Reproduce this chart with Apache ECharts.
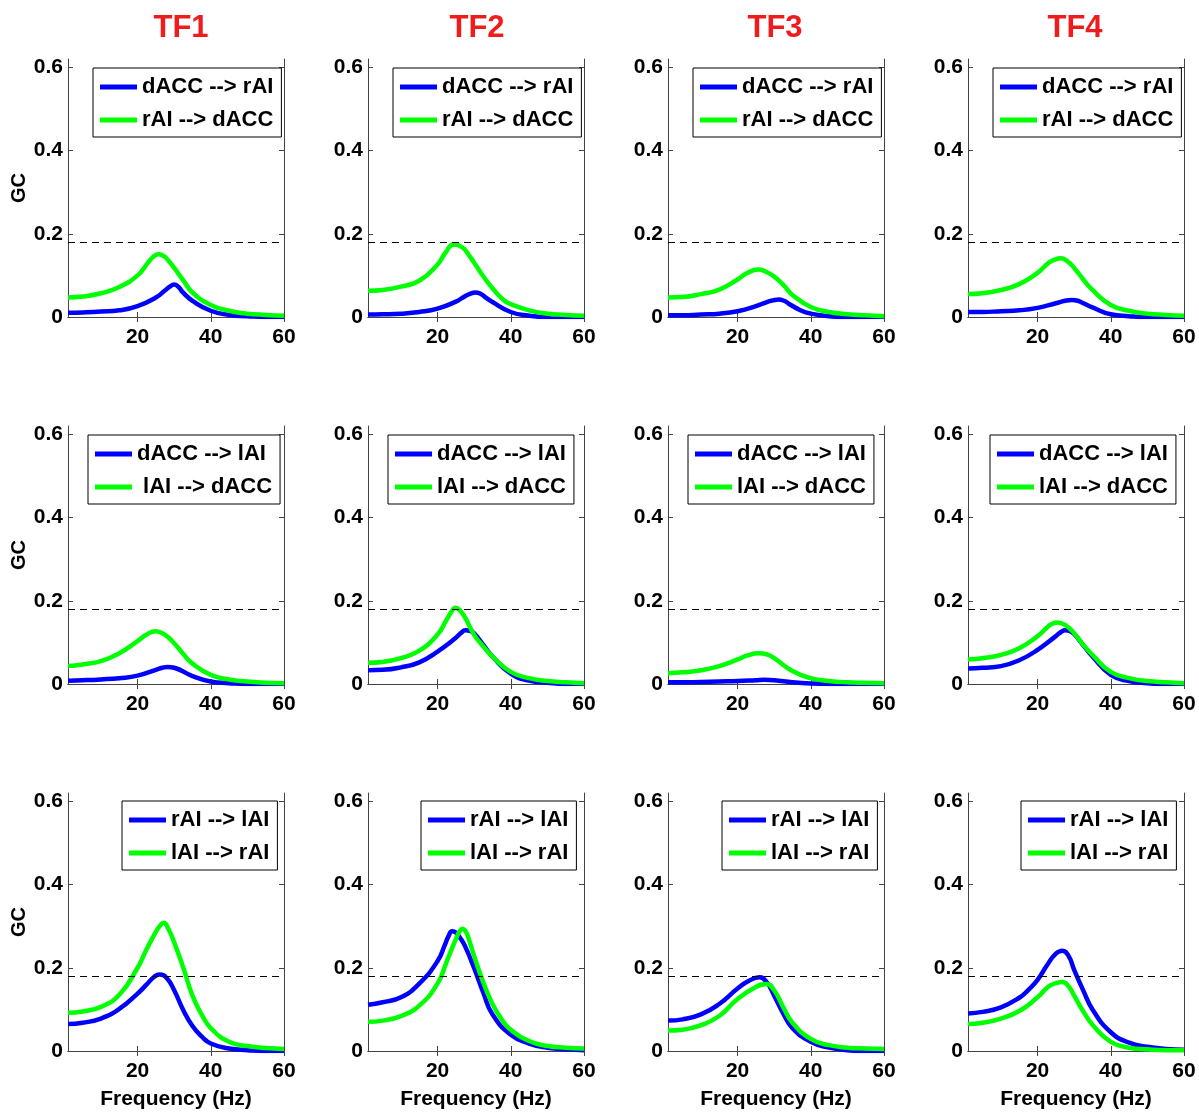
<!DOCTYPE html>
<html>
<head>
<meta charset="utf-8">
<script src="https://cdn.jsdelivr.net/npm/echarts@6/dist/echarts.min.js"></script>
<style>
html,body{margin:0;padding:0;background:#fff;}
#chart{width:1199px;height:1113px;}
</style>
</head>
<body>
<div id="chart"></div>
<script>
// ---------- data ----------
const freqMin = 1, freqMax = 60;
const xTicks = [20, 40, 60];
const yTicks = [0, 0.2, 0.4, 0.6];
const yMax = 0.62;
const threshold = 0.182;
const columnTitles = ['TF1', 'TF2', 'TF3', 'TF4'];
const xAxisName = 'Frequency (Hz)';
const yAxisName = 'GC';

const row1Names = ['dACC --> rAI', 'rAI --> dACC'];
const row2Names = ['dACC --> lAI', 'lAI --> dACC'];
const row2NamesTF1 = ['dACC --> lAI', ' lAI --> dACC'];
const row3Names = ['rAI --> lAI', 'lAI --> rAI'];

// Row 1: dACC <-> rAI
const r1tf1Blue  = [[1,.010],[5,.011],[10,.013],[15,.016],[20,.026],[25,.047],[27.4,.063],[28.8,.073],[30,.078],[31.2,.072],[32.4,.059],[35,.039],[40,.015],[45,.005],[50,.002],[55,0],[60,0]];
const r1tf1Green = [[1,.047],[5,.049],[10,.057],[15,.072],[20,.100],[22.8,.130],[24.3,.145],[25.8,.151],[27,.147],[28,.140],[30,.118],[32.5,.088],[35,.059],[40,.029],[45,.015],[50,.008],[55,.005],[60,.003]];
const r1tf2Blue  = [[1,.006],[5,.0065],[10,.008],[15,.012],[20,.020],[25,.037],[27.5,.050],[29,.056],[30.3,.059],[31.7,.056],[33,.048],[35,.036],[40,.012],[45,.003],[50,0],[55,0],[60,0]];
const r1tf2Green = [[1,.063],[5,.065],[10,.073],[15,.087],[20,.126],[22.2,.155],[24.4,.174],[26.8,.167],[28.7,.147],[30.5,.124],[32.4,.099],[35,.069],[38,.041],[40,.031],[45,.016],[50,.008],[55,.005],[60,.003]];
const r1tf3Blue  = [[1,.004],[5,.004],[10,.006],[15,.008],[20,.014],[25,.026],[28,.036],[29.7,.040],[31.2,.042],[32.7,.039],[34,.032],[37,.017],[40,.008],[45,.002],[50,0],[55,0],[60,0]];
const r1tf3Green = [[1,.047],[5,.048],[10,.055],[15,.066],[20,.090],[22.5,.105],[25.7,.114],[27.5,.110],[30,.097],[32.5,.077],[35,.053],[40,.024],[45,.012],[50,.0065],[55,.004],[60,.002]];
const r1tf4Blue  = [[1,.012],[5,.012],[10,.014],[15,.016],[20,.022],[25,.033],[27.5,.039],[29.4,.041],[31,.039],[32.5,.033],[35,.023],[40,.0065],[45,.002],[50,0],[55,0],[60,0]];
const r1tf4Green = [[1,.055],[5,.057],[10,.065],[15,.079],[20,.106],[23,.130],[24.7,.138],[26.3,.141],[28,.135],[30,.118],[32.5,.090],[35,.065],[40,.029],[45,.015],[50,.008],[55,.005],[60,.003]];

// Row 2: dACC <-> lAI
const r2tf1Blue  = [[1,.008],[5,.009],[10,.011],[15,.014],[20,.020],[25,.034],[26.8,.039],[28.2,.041],[30,.039],[35,.019],[40,.006],[45,.002],[50,0],[55,0],[60,0]];
const r2tf1Green = [[1,.043],[5,.047],[10,.055],[15,.074],[20,.103],[22.5,.119],[24.9,.127],[27.5,.118],[30,.098],[32.5,.072],[35,.049],[40,.022],[45,.011],[50,.006],[55,.003],[60,.002]];
const r2tf2Blue  = [[1,.033],[5,.034],[10,.040],[15,.052],[20,.078],[25,.111],[26.3,.122],[27.6,.129],[28.8,.128],[30,.122],[32.5,.094],[35,.066],[40,.025],[45,.008],[50,.003],[55,0],[60,0]];
const r2tf2Green = [[1,.051],[5,.053],[10,.062],[15,.080],[20,.119],[22.5,.155],[23.7,.172],[24.9,.183],[26.2,.176],[27.5,.160],[30,.118],[32.5,.090],[35,.066],[40,.029],[45,.014],[50,.007],[55,.004],[60,.002]];
const r2tf3Blue  = [[1,.004],[5,.004],[10,.005],[15,.006],[20,.007],[25,.009],[27.3,.010],[30,.009],[35,.004],[40,.001],[45,0],[50,0],[55,0],[60,0]];
const r2tf3Green = [[1,.026],[5,.028],[10,.033],[15,.043],[20,.059],[22.5,.068],[25.7,.074],[28,.071],[30,.062],[35,.031],[40,.014],[45,.007],[50,.004],[55,.003],[60,.002]];
const r2tf4Blue  = [[1,.037],[5,.039],[10,.043],[15,.057],[20,.082],[25,.115],[26.4,.125],[27.6,.129],[28.8,.127],[30,.120],[32.5,.093],[35,.066],[40,.022],[45,.007],[50,.002],[55,0],[60,0]];
const r2tf4Green = [[1,.059],[5,.062],[10,.070],[15,.086],[20,.115],[22.5,.135],[24,.145],[25.5,.148],[27.5,.142],[30,.122],[32.5,.094],[35,.070],[40,.029],[45,.014],[50,.007],[55,.004],[60,.002]];

// Row 3: rAI <-> lAI
const r3tf1Blue  = [[1,.065],[5,.068],[10,.078],[15,.101],[20,.138],[22.5,.160],[24.5,.178],[26,.184],[28,.175],[30,.146],[32.5,.098],[35,.060],[37.5,.035],[40,.018],[45,.006],[50,.002],[55,0],[60,0]];
const r3tf1Green = [[1,.092],[5,.095],[10,.106],[15,.135],[20,.200],[22.5,.245],[25,.286],[26.2,.302],[27.1,.308],[28.5,.292],[30,.261],[32.5,.200],[35,.133],[37.5,.088],[40,.055],[45,.022],[50,.012],[55,.007],[60,.005]];
const r3tf2Blue  = [[1,.111],[5,.117],[10,.129],[15,.162],[20,.216],[22,.255],[23,.276],[24,.288],[25,.285],[26,.274],[27.5,.252],[30,.199],[32.5,.140],[35,.088],[40,.039],[45,.018],[50,.008],[55,.004],[60,.002]];
const r3tf2Green = [[1,.070],[5,.073],[10,.084],[15,.109],[20,.162],[22.5,.215],[25,.269],[26,.287],[26.8,.294],[27.7,.287],[28.5,.270],[30,.228],[32.5,.165],[35,.113],[37.5,.076],[40,.051],[45,.024],[50,.012],[55,.008],[60,.006]];
const r3tf3Blue  = [[1,.073],[5,.076],[10,.088],[15,.113],[20,.150],[23,.168],[26,.177],[28,.165],[30,.133],[32.5,.090],[35,.055],[40,.022],[45,.008],[50,.002],[55,0],[60,0]];
const r3tf3Green = [[1,.049],[5,.051],[10,.062],[15,.084],[20,.125],[25,.154],[27.9,.161],[30,.146],[32.5,.105],[35,.068],[40,.029],[45,.014],[50,.008],[55,.006],[60,.005]];
const r3tf4Blue  = [[1,.090],[5,.094],[10,.105],[15,.128],[17.5,.147],[20,.171],[22.5,.205],[25,.234],[26.8,.241],[28.5,.228],[30,.195],[32.5,.145],[35,.100],[40,.045],[45,.020],[50,.010],[55,.005],[60,.003]];
const r3tf4Green = [[1,.065],[5,.068],[10,.078],[15,.096],[20,.129],[23,.155],[25,.163],[26.8,.166],[28.5,.155],[30,.133],[32.5,.095],[35,.063],[40,.022],[45,.008],[50,.004],[55,.002],[60,.002]];

// ---------- layout ----------
const colLeft = [68, 368, 668, 968];
const rowTop = [59, 426, 793];
const plotW = 216, plotH = 258;
const titleCenter = [176, 472, 770, 1070];
const legendPos = [
  [[93,68],[393,68],[693,68],[993,68]],
  [[88,435],[388,435],[688,435],[990,435]],
  [[122,801],[421,801],[722,801],[1021,801]]
];
const FONT = "'Liberation Sans',Arial,Helvetica,sans-serif";
const BLUE = '#0000ff', GREEN = '#00ff00';
const FRAME = '#444';

const panels = [
  [
    {blue:r1tf1Blue, green:r1tf1Green, names:row1Names},
    {blue:r1tf2Blue, green:r1tf2Green, names:row1Names},
    {blue:r1tf3Blue, green:r1tf3Green, names:row1Names},
    {blue:r1tf4Blue, green:r1tf4Green, names:row1Names}
  ],
  [
    {blue:r2tf1Blue, green:r2tf1Green, names:row2NamesTF1},
    {blue:r2tf2Blue, green:r2tf2Green, names:row2Names},
    {blue:r2tf3Blue, green:r2tf3Green, names:row2Names},
    {blue:r2tf4Blue, green:r2tf4Green, names:row2Names}
  ],
  [
    {blue:r3tf1Blue, green:r3tf1Green, names:row3Names},
    {blue:r3tf2Blue, green:r3tf2Green, names:row3Names},
    {blue:r3tf3Blue, green:r3tf3Green, names:row3Names},
    {blue:r3tf4Blue, green:r3tf4Green, names:row3Names}
  ]
];

const grid = [], xAxis = [], yAxis = [], series = [], legend = [], title = [];

columnTitles.forEach((t, c) => {
  title.push({
    text: t, left: titleCenter[c], top: 8, textAlign: 'center',
    textStyle: {fontFamily: FONT, fontSize: 31, fontWeight: 'bold', color: '#ee1c1c'}
  });
});

let gi = 0;
panels.forEach((row, r) => {
  row.forEach((p, c) => {
    grid.push({left: colLeft[c], top: rowTop[r], width: plotW, height: plotH, containLabel: false});
    const xi = xAxis.length, yi = yAxis.length;
    xAxis.push({
      gridIndex: gi, type: 'value', min: freqMin, max: freqMax, position: 'bottom',
      axisLine: {show: true, lineStyle: {color: FRAME, width: 1}},
      axisTick: {show: true, inside: true, length: 5, customValues: xTicks, lineStyle: {color: FRAME}},
      axisLabel: {show: true, customValues: xTicks, margin: 10, color: '#000', fontFamily: FONT, fontSize: 21, fontWeight: 'bold'},
      splitLine: {show: false},
      name: r === 2 ? xAxisName : '', nameLocation: 'middle', nameGap: 38,
      nameTextStyle: {fontFamily: FONT, fontSize: 21, fontWeight: 'bold', color: '#000'}
    });
    xAxis.push({
      gridIndex: gi, type: 'value', min: freqMin, max: freqMax, position: 'top',
      axisLine: {show: true, lineStyle: {color: FRAME, width: 1}},
      axisTick: {show: true, inside: true, length: 5, customValues: xTicks, lineStyle: {color: FRAME}},
      axisLabel: {show: false}, splitLine: {show: false}
    });
    yAxis.push({
      gridIndex: gi, type: 'value', min: 0, max: yMax, position: 'left',
      axisLine: {show: true, lineStyle: {color: FRAME, width: 1}},
      axisTick: {show: true, inside: true, length: 5, customValues: yTicks, lineStyle: {color: FRAME}},
      axisLabel: {show: true, customValues: yTicks, margin: 5, color: '#000', fontFamily: FONT, fontSize: 21, fontWeight: 'bold'},
      splitLine: {show: false},
      name: c === 0 ? yAxisName : '', nameLocation: 'middle', nameGap: 35, nameRotate: 90,
      nameTextStyle: {fontFamily: FONT, fontSize: 20, fontWeight: 'bold', color: '#000'}
    });
    yAxis.push({
      gridIndex: gi, type: 'value', min: 0, max: yMax, position: 'right',
      axisLine: {show: true, lineStyle: {color: FRAME, width: 1}},
      axisTick: {show: true, inside: true, length: 5, customValues: yTicks, lineStyle: {color: FRAME}},
      axisLabel: {show: false}, splitLine: {show: false}
    });
    series.push({
      type: 'line', name: p.names[0], xAxisIndex: xi, yAxisIndex: yi, data: p.blue,
      showSymbol: false, symbol: 'none', smooth: 0.5,
      lineStyle: {color: BLUE, width: 4.5}, itemStyle: {color: BLUE}, z: 2,
      markLine: {
        silent: true, symbol: 'none', label: {show: false},
        lineStyle: {color: '#000', type: [7, 5], width: 1},
        data: [{yAxis: threshold}]
      }
    });
    series.push({
      type: 'line', name: p.names[1], xAxisIndex: xi, yAxisIndex: yi, data: p.green,
      showSymbol: false, symbol: 'none', smooth: 0.5,
      lineStyle: {color: GREEN, width: 4.5}, itemStyle: {color: GREEN}, z: 3
    });
    const lp = legendPos[r][c];
    legend.push({
      orient: 'vertical', left: lp[0], top: lp[1], data: p.names,
      icon: 'rect', itemWidth: 37, itemHeight: 5, itemGap: 11,
      padding: [8, 8, 6, 7], borderColor: '#000', borderWidth: 1, backgroundColor: '#fff',
      selectedMode: false,
      textStyle: {fontFamily: FONT, fontSize: 22, fontWeight: 'bold', color: '#000'}
    });
    gi++;
  });
});

const chart = echarts.init(document.getElementById('chart'), null, {renderer: 'canvas'});
chart.setOption({
  backgroundColor: '#fff',
  animation: false,
  title, grid, xAxis, yAxis, series, legend
});
</script>
</body>
</html>
